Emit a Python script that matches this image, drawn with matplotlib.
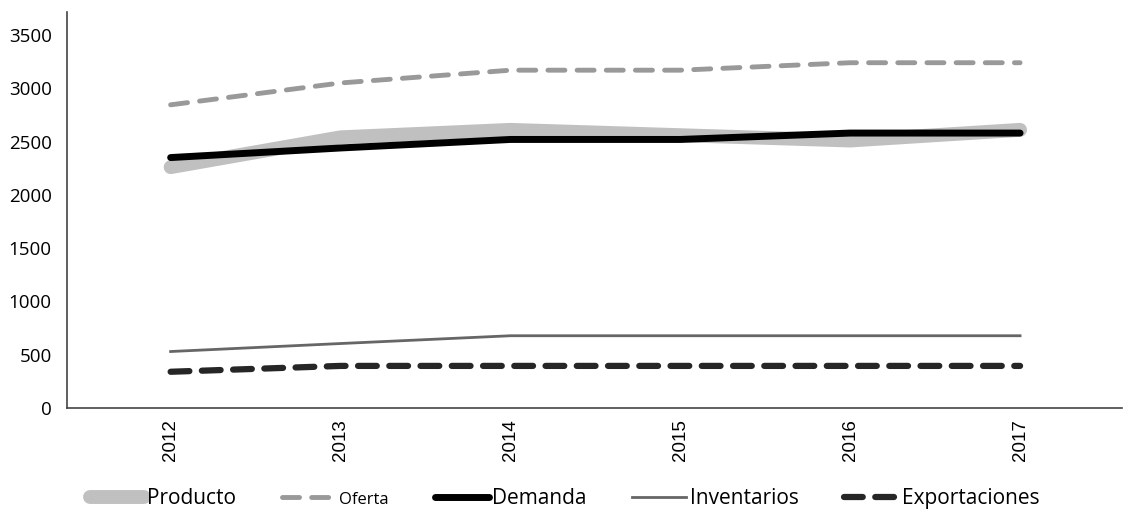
import matplotlib
matplotlib.use("Agg")
import matplotlib.pyplot as plt

# datos
years = ["2012", "2013", "2014", "2015", "2016", "2017"]
producto = [2260, 2540, 2610, 2560, 2510, 2610]
oferta = [2845, 3050, 3170, 3170, 3240, 3240]
demanda = [2350, 2440, 2520, 2520, 2580, 2580]
inventarios = [530, 605, 678, 678, 678, 678]
exportaciones = [340, 395, 395, 395, 395, 395]
yticks = [0, 500, 1000, 1500, 2000, 2500, 3000, 3500]

plt.rcParams["font.family"] = ["Open Sans", "DejaVu Sans"]

fig = plt.figure(figsize=(11.29, 5.14), dpi=100)
ax = fig.add_axes([67 / 1129, 106 / 514, (1122 - 67) / 1129, 396 / 514])

x = range(len(years))
ax.plot(x, producto, color="#c0c0c0", lw=10, solid_capstyle="round", label="Producto")
ax.plot(x, oferta, color="#999999", lw=3.5, dashes=(3.5, 2.5), dash_capstyle="round", label="Oferta")
ax.plot(x, demanda, color="#000000", lw=5, solid_capstyle="round", label="Demanda")
ax.plot(x, inventarios, color="#666666", lw=2, label="Inventarios")
ax.plot(x, exportaciones, color="#262626", lw=4.5, dashes=(3, 2), dash_capstyle="round", label="Exportaciones")

ax.set_xlim(-0.61, 5.6)
ax.set_ylim(0, 3716)
ax.set_xticks(list(x))
ax.set_xticklabels(years, rotation=90, fontsize=13.5, family=["Liberation Sans", "DejaVu Sans"])
ax.set_yticks(yticks)
ax.set_yticklabels([str(v) for v in yticks], fontsize=13.5)
ax.tick_params(axis="both", length=0)
ax.tick_params(axis="x", pad=8)
ax.tick_params(axis="y", pad=11)

for s in ["top", "right"]:
    ax.spines[s].set_visible(False)
for s in ["left", "bottom"]:
    ax.spines[s].set_color("#444444")
    ax.spines[s].set_linewidth(1.2)

leg = fig.legend(loc="lower center", bbox_to_anchor=(0.5, -0.027), ncol=5, frameon=False,
                 fontsize=15, handlelength=2.6, columnspacing=2.2, handletextpad=0.15)
leg.get_texts()[1].set_fontsize(12)

fig.savefig("out.png", dpi=100)
